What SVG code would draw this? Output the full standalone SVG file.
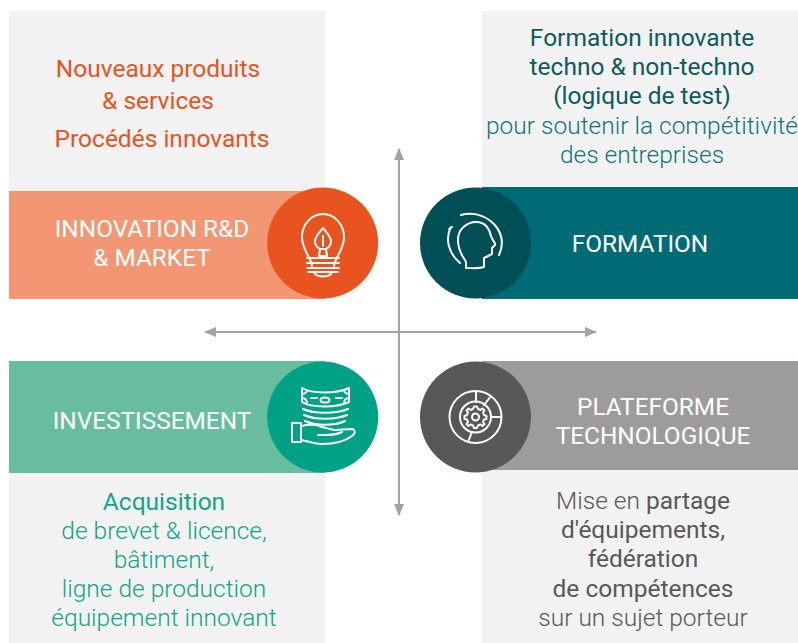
<svg xmlns="http://www.w3.org/2000/svg" width="798" height="643" viewBox="0 0 798 643">
<defs>
<marker id="ah" viewBox="0 0 12 10" refX="11" refY="5" markerWidth="12" markerHeight="10" markerUnits="userSpaceOnUse" orient="auto-start-reverse"><path d="M0 0L12 5L0 10Z" fill="#a3a3a3"/></marker>
</defs>
<style>
text{font-family:Roboto,"Liberation Sans",sans-serif;font-weight:300;text-anchor:middle;font-size:24.500px}
.pan{fill:#f2f2f2}
.lbl{fill:#fff;font-weight:400;font-size:24.400px}
.o{fill:#e9531f;font-weight:400}
.t{fill:#0e5a5e}
.t2{fill:#12747c}
.g{fill:#11a588}
.k{fill:#595857}
.ic{fill:none;stroke:#fff;stroke-width:2;stroke-linecap:round;stroke-linejoin:round}
.b{font-weight:400}
</style>
<rect class="pan" x="9" y="11" width="316" height="180"/>
<rect class="pan" x="482" y="11" width="316" height="180"/>
<rect class="pan" x="9" y="470" width="316" height="173"/>
<rect class="pan" x="482" y="470" width="316" height="173"/>
<g id="connectors" fill="none" stroke="#a3a3a3" stroke-width="2">
<path d="M399 149V515" marker-start="url(#ah)" marker-end="url(#ah)"/>
<path d="M205 332H596" marker-start="url(#ah)" marker-end="url(#ah)"/>
</g>
<g id="innovation">
<rect x="9" y="191" width="316" height="108" fill="#f29673"/>
<circle cx="322.700" cy="243" r="55.500" fill="#e9531f"/>
<text class="lbl" x="152" y="237">INNOVATION R&amp;D</text>
<text class="lbl" x="152" y="266">&amp; MARKET</text>
<g class="ic">
<path d="M312 266C311 257 302 250 302 237C302 224 312 214 323 214C334 214 344 224 344 237C344 250 335 257 334 266"/>
<path d="M323 228C318 234 315 237 315 241C315 246 318 248 320 249H326C328 248 331 246 331 241C331 237 328 234 323 228ZM323 236V246M320 249L319 256H327L326 249"/>
<path d="M307 258H339M307 263H339M307 268H339M308 272H338M314 272C316 278 330 278 332 272"/>
</g>
<text class="o" x="158" y="77">Nouveaux produits</text>
<text class="o" x="158" y="109">&amp; services</text>
<text class="o" x="162" y="147">Procédés innovants</text>
</g>
<g id="formation">
<rect x="482" y="187" width="316" height="112" fill="#006b75"/>
<circle cx="475.500" cy="243" r="55.500" fill="#014f56"/>
<text class="lbl" x="640" y="252">FORMATION</text>
<g class="ic">
<path d="M466 268V262C463 256 458 252 458 240C458 228 468 222 476 222C486 222 490 230 491 236C492 240 496 243 495 245L492 248V254L484 258V267C478 269 472 268 466 268Z"/>
<path d="M461 215C471 212 484 214 494 224C503 234 504 244 499 255M451 227C445 238 448 253 460 263M449 229L452 227"/>
</g>
<text class="t b" x="642" y="46">Formation innovante</text>
<text class="t b" x="642" y="75">techno &amp; non-techno</text>
<text class="t b" x="642" y="104">(logique de test)</text>
<text class="t2" x="642" y="134">pour soutenir la compétitivité</text>
<text class="t2" x="642" y="163">des entreprises</text>
</g>
<g id="investissement">
<rect x="9" y="361" width="316" height="112" fill="#68bd9f"/>
<circle cx="322.700" cy="417" r="55.500" fill="#00a185"/>
<text class="lbl" x="152" y="429">INVESTISSEMENT</text>
<g class="ic">
<path d="M302 388C312 394 336 394 349 388V402C336 408 312 408 302 402ZM302 394C305 394 307 392 307 390M349 394C346 394 344 392 344 390M302 398C305 398 307 400 307 404M349 398C346 398 344 400 344 404M311 398H317M336 398H342"/>
<ellipse cx="325" cy="400" rx="4.500" ry="2.500"/>
<path d="M303 409C314 414 336 414 348 409M304 415C315 420 335 420 347 415M305 421C315 426 335 426 345 421"/>
<rect x="292" y="423" width="9" height="19"/>
<path d="M301 426C310 424 316 424 322 427L334 430L353 429C356 431 355 434 352 436C344 442 334 444 322 444C314 444 308 441 301 440M318 435C326 435 334 436 342 432"/>
</g>
<text class="g b" x="164" y="510">Acquisition</text>
<text class="g" x="164" y="539">de brevet &amp; licence,</text>
<text class="g" x="164" y="568">bâtiment,</text>
<text class="g" x="164" y="597">ligne de production</text>
<text class="g" x="164" y="626">équipement innovant</text>
</g>
<g id="plateforme">
<rect x="482" y="361" width="316" height="109" fill="#9d9c9a"/>
<circle cx="475.500" cy="417" r="55.500" fill="#595857"/>
<text class="lbl" x="653" y="415">PLATEFORME</text>
<text class="lbl" x="653" y="444">TECHNOLOGIQUE</text>
<g class="ic">
<circle cx="475.500" cy="417" r="26"/>
<circle cx="475.500" cy="417" r="15.500"/>
<circle cx="475.500" cy="417" r="3.500"/>
<path d="M475.500 406.500L477 406.500L478 409L480.500 410L482.500 408.500L484.500 410.500L483 412.500L484 415L486.500 416V419L484 419.500L483 422L484.500 424L482.500 426L480.500 424.500L478 425.500L477 428H474L473 425.500L470.500 424.500L468.500 426L466.500 424L468 422L467 419.500L464.500 419V416L467 415L468 412.500L466.500 410.500L468.500 408.500L470.500 410L473 409L474 406.500Z"/>
<path d="M476 391V402M491 396L484 405M501 417H491M468 442L472 432"/>
</g>
<text class="k" x="643" y="509">Mise en <tspan class="b">partage</tspan></text>
<text class="k b" x="643" y="538">d'équipements,</text>
<text class="k b" x="643" y="567">fédération</text>
<text class="k b" x="643" y="597">de compétences</text>
<text class="k" x="643" y="626">sur un sujet porteur</text>
</g>
</svg>
